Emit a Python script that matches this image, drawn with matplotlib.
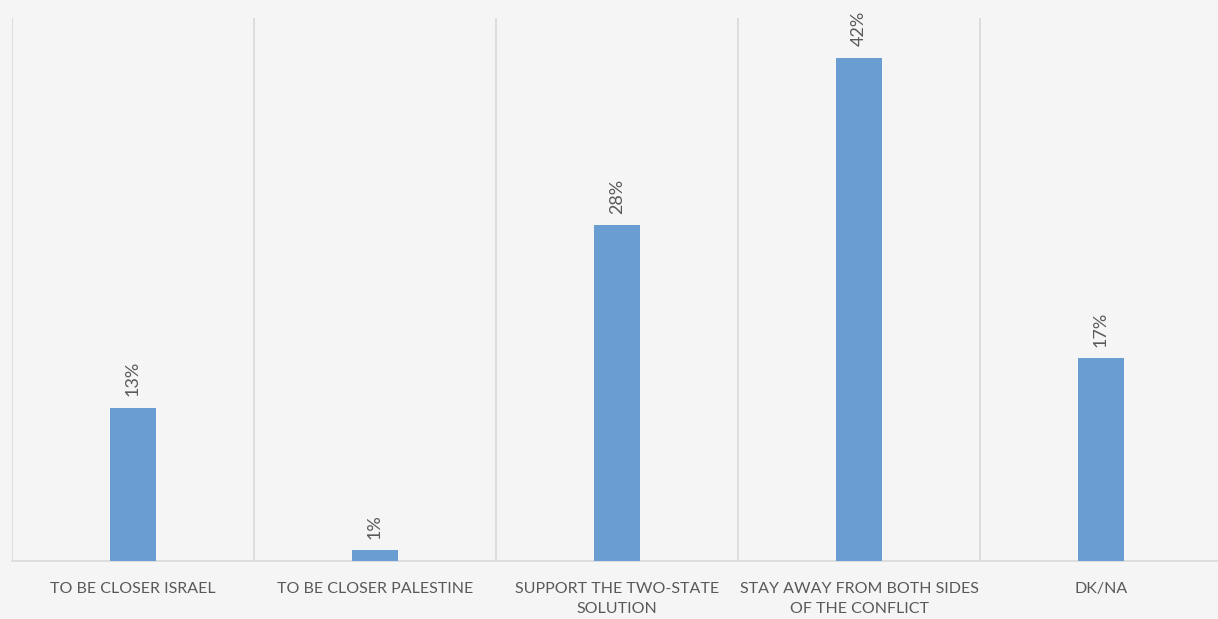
import matplotlib.pyplot as plt

## Data
categories = ['TO BE CLOSER ISRAEL', 'TO BE CLOSER PALESTINE', 'SUPPORT THE TWO-STATE\nSOLUTION',
              'STAY AWAY FROM BOTH SIDES\nOF THE CONFLICT', 'DK/NA']
values = [12.8, 0.9, 28.0, 42.0, 16.9]
labels = ['13%', '1%', '28%', '42%', '17%']

bg = '#f5f5f5'
bar_color = '#6a9ed3'
grid_color = '#d9d9d9'
text_color = '#595959'

plt.rcParams['font.family'] = ['Lato', 'DejaVu Sans']

fig = plt.figure(figsize=(12.18, 6.19), dpi=100, facecolor=bg)
ax = fig.add_axes([12 / 1218, 58 / 619, 1210 / 1218, 543 / 619], facecolor=bg)

x = list(range(len(categories)))
ax.bar(x, values, width=0.186, color=bar_color, zorder=3)

for xi, v, lab in zip(x, values, labels):
    ax.annotate(lab, (xi, v), xytext=(0, 8), textcoords='offset points',
                rotation=90, ha='center', va='bottom', fontsize=13, color=text_color)

# category separators
for b in [i - 0.5 for i in range(len(categories) + 1)]:
    ax.axvline(b, color=grid_color, lw=1.2, zorder=1)

ax.set_xlim(-0.5, 4.5)
ax.set_ylim(0, 45.3)
ax.set_xticks(x)
ax.set_xticklabels(categories, fontsize=11.5, color=text_color, linespacing=1.55)
ax.tick_params(axis='x', length=0, pad=15)
ax.set_yticks([])

for s in ['top', 'left', 'right']:
    ax.spines[s].set_visible(False)
ax.spines['bottom'].set_color(grid_color)
ax.spines['bottom'].set_linewidth(1.2)

fig.savefig('out.png', dpi=100, facecolor=bg)
